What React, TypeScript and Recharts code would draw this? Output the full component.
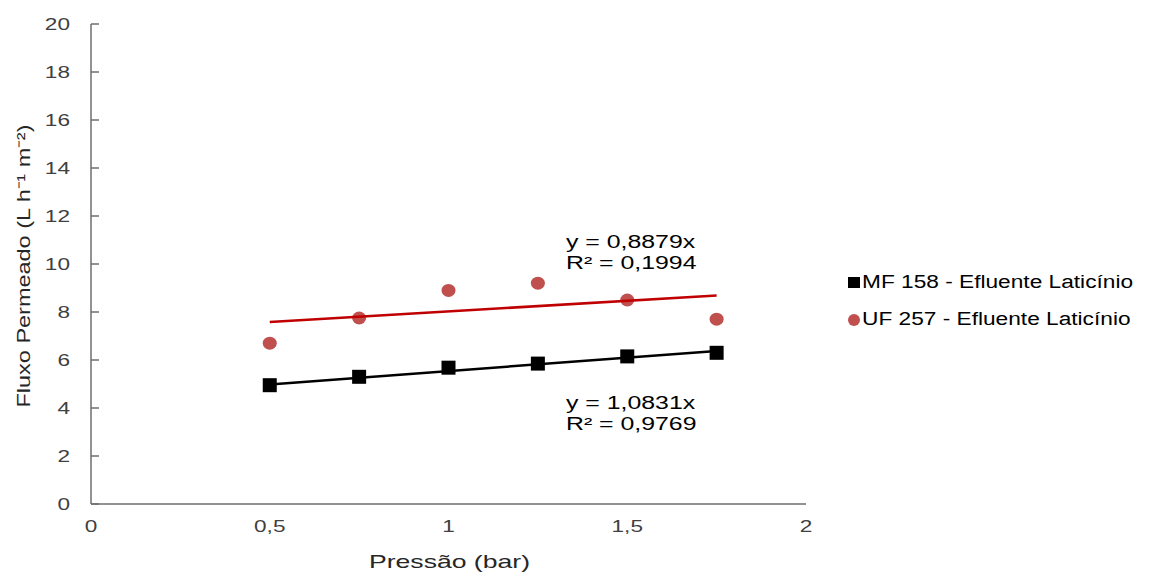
import React from "react";
import { ComposedChart, Scatter, XAxis, YAxis, Legend, Label } from "recharts";

// pressure (bar) and permeate flux (L h-1 m-2)
const pressure = [0.5, 0.75, 1, 1.25, 1.5, 1.75];
const mf158 = [4.95, 5.3, 5.68, 5.85, 6.15, 6.3];
const uf257 = [6.7, 7.75, 8.9, 9.2, 8.5, 7.7];

// trendline end points as drawn
const trendX = [0.5, 1.75];
const mfTrend = [4.98, 6.38];
const ufTrend = [7.58, 8.69];

const xTicks = [0, 0.5, 1, 1.5, 2];
const yTicks = [0, 2, 4, 6, 8, 10, 12, 14, 16, 18, 20];

const FONT = "'Liberation Sans', Arial, sans-serif";
const AXIS = "#6e6e6e";
const TICK_TXT = "#404040";
const TITLE_TXT = "#262626";
const SX = 1.33; // the source picture is stretched sideways

const mfData = pressure.map((x, i) => ({ x, y: mf158[i] }));
const ufData = pressure.map((x, i) => ({ x, y: uf257[i] }));
const mfTrendData = trendX.map((x, i) => ({ x, y: mfTrend[i] }));
const ufTrendData = trendX.map((x, i) => ({ x, y: ufTrend[i] }));

const fmt = (v: number) => String(v).replace(".", ",");

function YTick(props: any) {
  const { x, y, payload } = props;
  return (
    <g>
      <line x1={x + 21} x2={x + 29} y1={y} y2={y} stroke={AXIS} strokeWidth={1.5} />
      <g transform={`translate(${x},${y}) scale(${SX},1)`}>
        <text x={0} y={0} dy="0.36em" textAnchor="end" fill={TICK_TXT} fontSize={17} fontFamily={FONT}>
          {payload.value}
        </text>
      </g>
    </g>
  );
}

function XTick(props: any) {
  const { x, y, payload } = props;
  return (
    <g transform={`translate(${x},${y}) scale(${SX},1)`}>
      <text x={0} y={0} dy="0.71em" textAnchor="middle" fill={TICK_TXT} fontSize={17} fontFamily={FONT}>
        {fmt(payload.value)}
      </text>
    </g>
  );
}

const SquareDot = (props: any) => {
  const { cx, cy } = props;
  return <rect x={cx - 7} y={cy - 7} width={14} height={14} fill="#000" />;
};

const RoundDot = (props: any) => {
  const { cx, cy } = props;
  return <ellipse cx={cx} cy={cy} rx={7} ry={6.5} fill="#c0504d" />;
};

const NoDot = () => <g />;

function LegendBox(props: any) {
  const items = (props.payload || []).filter((p: any) => p.type !== "none");
  return (
    <div style={{ fontFamily: FONT, fontSize: 18, color: "#000", textAlign: "left" }}>
      {items.map((p: any) => (
        <div key={p.value} style={{ display: "flex", alignItems: "center", height: 37 }}>
          <span
            style={{
              width: 12,
              height: p.type === "square" ? 11 : 12,
              borderRadius: p.type === "square" ? 0 : 6,
              background: p.color,
              marginRight: 2,
              display: "inline-block",
              flex: "none",
            }}
          />
          <span style={{ display: "inline-block", transform: "scaleX(1.26)", transformOrigin: "0 50%", whiteSpace: "nowrap" }}>
            {p.value}
          </span>
        </div>
      ))}
    </div>
  );
}

const noteStyle: React.CSSProperties = {
  position: "absolute",
  left: 566,
  fontFamily: FONT,
  fontSize: 18,
  lineHeight: "21px",
  color: "#000",
  whiteSpace: "nowrap",
  transform: "scaleX(1.38)",
  transformOrigin: "0 0",
};

export default function App() {
  return (
    <div style={{ position: "absolute", left: 0, top: 0, width: 1158, height: 572, background: "#fff" }}>
      <ComposedChart width={1158} height={572} margin={{ top: 24, right: 352, bottom: 0, left: 0 }}>
        <XAxis
          type="number"
          dataKey="x"
          domain={[0, 2]}
          ticks={xTicks}
          height={68}
          axisLine={{ stroke: AXIS, strokeWidth: 1.5 }}
          tickLine={false}
          tickSize={0}
          tickMargin={16}
          tick={(p: any) => <XTick {...p} />}
        >
          <Label
            content={() => (
              <text
                x={449.5}
                y={561}
                dy="0.36em"
                textAnchor="middle"
                fontSize={18.5}
                fontFamily={FONT}
                fill={TITLE_TXT}
                textLength={161}
                lengthAdjust="spacingAndGlyphs"
              >
                Pressão (bar)
              </text>
            )}
          />
        </XAxis>
        <YAxis
          type="number"
          dataKey="y"
          domain={[0, 20]}
          ticks={yTicks}
          width={91}
          axisLine={{ stroke: AXIS, strokeWidth: 1.5 }}
          tickLine={false}
          tickSize={0}
          tickMargin={21}
          tick={(p: any) => <YTick {...p} />}
        >
          <Label
            content={() => (
              <text
                x={23}
                y={266}
                dy="0.36em"
                textAnchor="middle"
                fontSize={18.5}
                fontFamily={FONT}
                fill={TITLE_TXT}
                textLength={283}
                lengthAdjust="spacingAndGlyphs"
                transform="rotate(-90, 23, 266)"
              >
                Fluxo Permeado (L h⁻¹ m⁻²)
              </text>
            )}
          />
        </YAxis>
        <Legend
          layout="horizontal"
          verticalAlign="middle"
          align="center"
          wrapperStyle={{ position: "absolute", left: 848, top: 264, width: 300 }}
          content={(p: any) => <LegendBox {...p} />}
        />
        <Scatter
          data={ufData}
          name="UF 257 - Efluente Laticínio"
          fill="#c0504d"
          legendType="circle"
          shape={RoundDot}
          isAnimationActive={false}
        />
        <Scatter
          data={ufTrendData}
          name="ufTrend"
          fill="#c00000"
          legendType="none"
          line={{ stroke: "#c00000", strokeWidth: 2.5 }}
          shape={NoDot}
          isAnimationActive={false}
        />
        <Scatter
          data={mfTrendData}
          name="mfTrend"
          fill="#000"
          legendType="none"
          line={{ stroke: "#000", strokeWidth: 2.5 }}
          shape={NoDot}
          isAnimationActive={false}
        />
        <Scatter
          data={mfData}
          name="MF 158 - Efluente Laticínio"
          fill="#000"
          legendType="square"
          shape={SquareDot}
          isAnimationActive={false}
        />
      </ComposedChart>
      <div style={{ ...noteStyle, top: 232 }}>
        y = 0,8879x
        <br />
        R² = 0,1994
      </div>
      <div style={{ ...noteStyle, top: 393 }}>
        y = 1,0831x
        <br />
        R² = 0,9769
      </div>
    </div>
  );
}
